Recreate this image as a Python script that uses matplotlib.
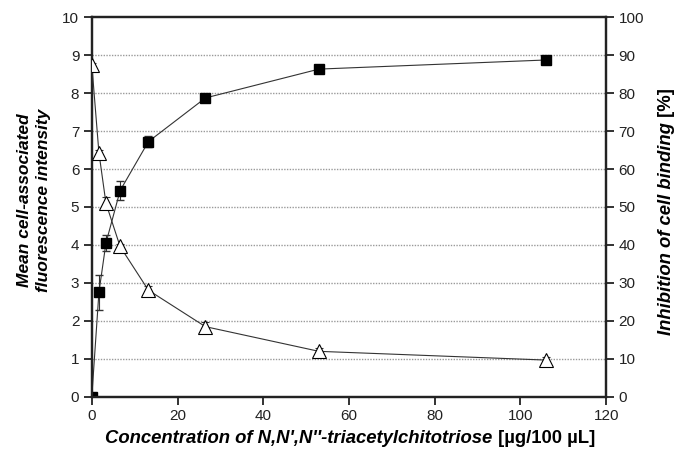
import matplotlib
matplotlib.use("Agg")
import matplotlib.pyplot as plt

# dilution series of N,N',N''-triacetylchitotriose (ug / 100 uL)
conc = [0, 1.66, 3.3, 6.6, 13.2, 26.5, 53, 106]
# mean cell-associated fluorescence (left axis)
fluor = [0.0, 2.75, 4.05, 5.43, 6.72, 7.87, 8.63, 8.87]
fluor_err = [0.03, 0.45, 0.2, 0.25, 0.15, 0.06, 0.05, 0.08]
# inhibition of cell binding, % (right axis)
inhib = [87.5, 64.3, 51.0, 39.6, 28.1, 18.5, 12.0, 9.7]
inhib_err = [0.5, 0.6, 1.5, 0.6, 1.0, 1.2, 0.9, 0.8]

plt.rcParams['font.family'] = ['Liberation Sans', 'DejaVu Sans']

fig = plt.figure(figsize=(6.75, 4.61), dpi=100)
ax = fig.add_axes([0.136, 0.139, 0.762, 0.824])
ax2 = ax.twinx()

lc = '#333333'
ax.errorbar(conc, fluor, yerr=fluor_err, color=lc, lw=0.8, marker='s', ms=7.5,
            mfc='black', mec='black', ecolor=lc, elinewidth=0.8, capsize=3, zorder=3)
ax2.errorbar(conc, inhib, yerr=inhib_err, color=lc, lw=0.8, marker='^', ms=10,
             mfc='white', mec='black', mew=0.8, ecolor=lc, elinewidth=0.8, capsize=3, zorder=3)

ax.set_xlim(0, 120)
ax.set_ylim(0, 10)
ax2.set_ylim(0, 100)
ax.set_xticks(range(0, 121, 20))
ax.set_yticks(range(0, 11))
ax2.set_yticks(range(0, 101, 10))

for y in range(1, 10):
    ax.axhline(y, color='#9a9a9a', lw=1.0, ls=(0, (1, 1)), zorder=0)

for a in (ax, ax2):
    for s in a.spines.values():
        s.set_linewidth(1.6)
        s.set_color('#222222')
    a.tick_params(direction='out', length=6, width=1.3, pad=3, labelsize=11, colors='#222222')

# axis labels: bold italic part + bold upright part
t1 = fig.text(0.050, 0.566, "Mean cell-associated\nfluorescence intensity",
              rotation=90, ha='center', va='center', fontsize=12.5,
              fontweight='bold', style='italic', linespacing=1.3)

tx = fig.text(0.156, 0.048, "Concentration of N,N',N''-triacetylchitotriose",
              ha='left', va='center', fontsize=13.3, fontweight='bold', style='italic')
ax.annotate(" [µg/100 µL]", xy=(1, 0.5), xycoords=tx, ha='left', va='center',
            fontsize=13.3, fontweight='bold')

ty = fig.text(0.988, 0.273, "Inhibition of cell binding",
              rotation=90, ha='center', va='bottom', fontsize=13.3,
              fontweight='bold', style='italic')
ax.annotate(" [%]", xy=(0.5, 1), xycoords=ty, ha='center', va='bottom',
            rotation=90, fontsize=13.3, fontweight='bold')

fig.savefig("out.png", dpi=100)
